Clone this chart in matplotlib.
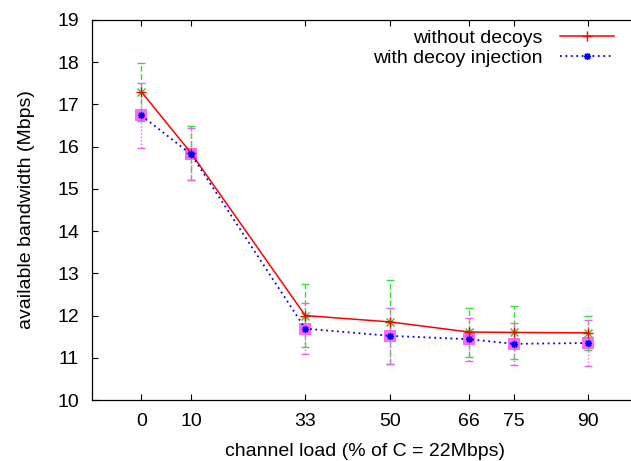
import numpy as np
import matplotlib
matplotlib.use('Agg')
from matplotlib import pyplot as plt

plt.rcParams['font.family'] = ['Liberation Sans', 'DejaVu Sans']

# channel load (% of C = 22Mbps)
load = np.array([0, 10, 33, 50, 66, 75, 90])

# without decoys
bw_plain = np.array([17.30, 15.85, 12.00, 11.85, 11.61, 11.60, 11.59])
err_plain = np.array([0.69, 0.63, 0.75, 1.00, 0.58, 0.63, 0.40])

# with decoy injection
bw_decoy = np.array([16.74, 15.82, 11.69, 11.52, 11.44, 11.33, 11.35])
err_decoy = np.array([0.76, 0.62, 0.60, 0.66, 0.51, 0.49, 0.55])

fig = plt.figure(figsize=(6.31, 4.61), dpi=100)
# axes runs past the right edge of the picture, like the cropped original
ax = fig.add_axes([91.7 / 631, 61 / 461, (638 - 91.7) / 631, 380 / 461])

# error bars
eb1 = ax.errorbar(load, bw_plain, yerr=err_plain, fmt='none', ecolor='#33e033',
                  elinewidth=1.0, capsize=3, capthick=1.0, zorder=2)
eb1[2][0].set_linestyle((0, (4, 2)))
eb2 = ax.errorbar(load, bw_decoy, yerr=err_decoy, fmt='none', ecolor='#f060f0',
                  elinewidth=1.0, capsize=3, capthick=1.0, zorder=2)
eb2[2][0].set_linestyle((0, (1, 1.5)))

ax.plot(load, bw_plain, linestyle='none', marker='x', color='#22cc22',
        markersize=6, markeredgewidth=1.0, zorder=3)
ax.plot(load, bw_decoy, linestyle='none', marker='s', color='#ff44ff',
        markersize=8, alpha=0.8, markeredgewidth=0, zorder=3)

# main lines
ax.plot(load, bw_plain, color='red', linewidth=1.1, marker='+', markersize=7,
        markeredgewidth=1.0, label='without decoys', zorder=4)
ax.plot(load, bw_decoy, color='blue', linewidth=1.3, linestyle=(0, (1, 2)),
        marker=(8, 2, 0), markersize=5, markeredgewidth=1.0,
        label='with decoy injection', zorder=4)

ax.set_xlim(-10, 100)
ax.set_ylim(10, 19)
ax.set_xticks(load)
ax.set_yticks(np.arange(10, 20, 1))
ax.tick_params(direction='in', length=4.3, width=0.8, top=True, right=True,
               labelsize=14, pad=9, colors='black')
for sp in ax.spines.values():
    sp.set_linewidth(0.9)

ax.set_xlabel('channel load (% of C = 22Mbps)', fontsize=14, labelpad=10)
ax.set_ylabel('available bandwidth (Mbps)', fontsize=14, labelpad=16)

fig.legend(loc='upper right', bbox_to_anchor=(614 / 631, 1 - 29 / 461),
           frameon=False, markerfirst=False, fontsize=14, handlelength=2.8,
           handletextpad=0.9, labelspacing=0.15, borderpad=0, borderaxespad=0)

fig.savefig('out.png', dpi=100)
